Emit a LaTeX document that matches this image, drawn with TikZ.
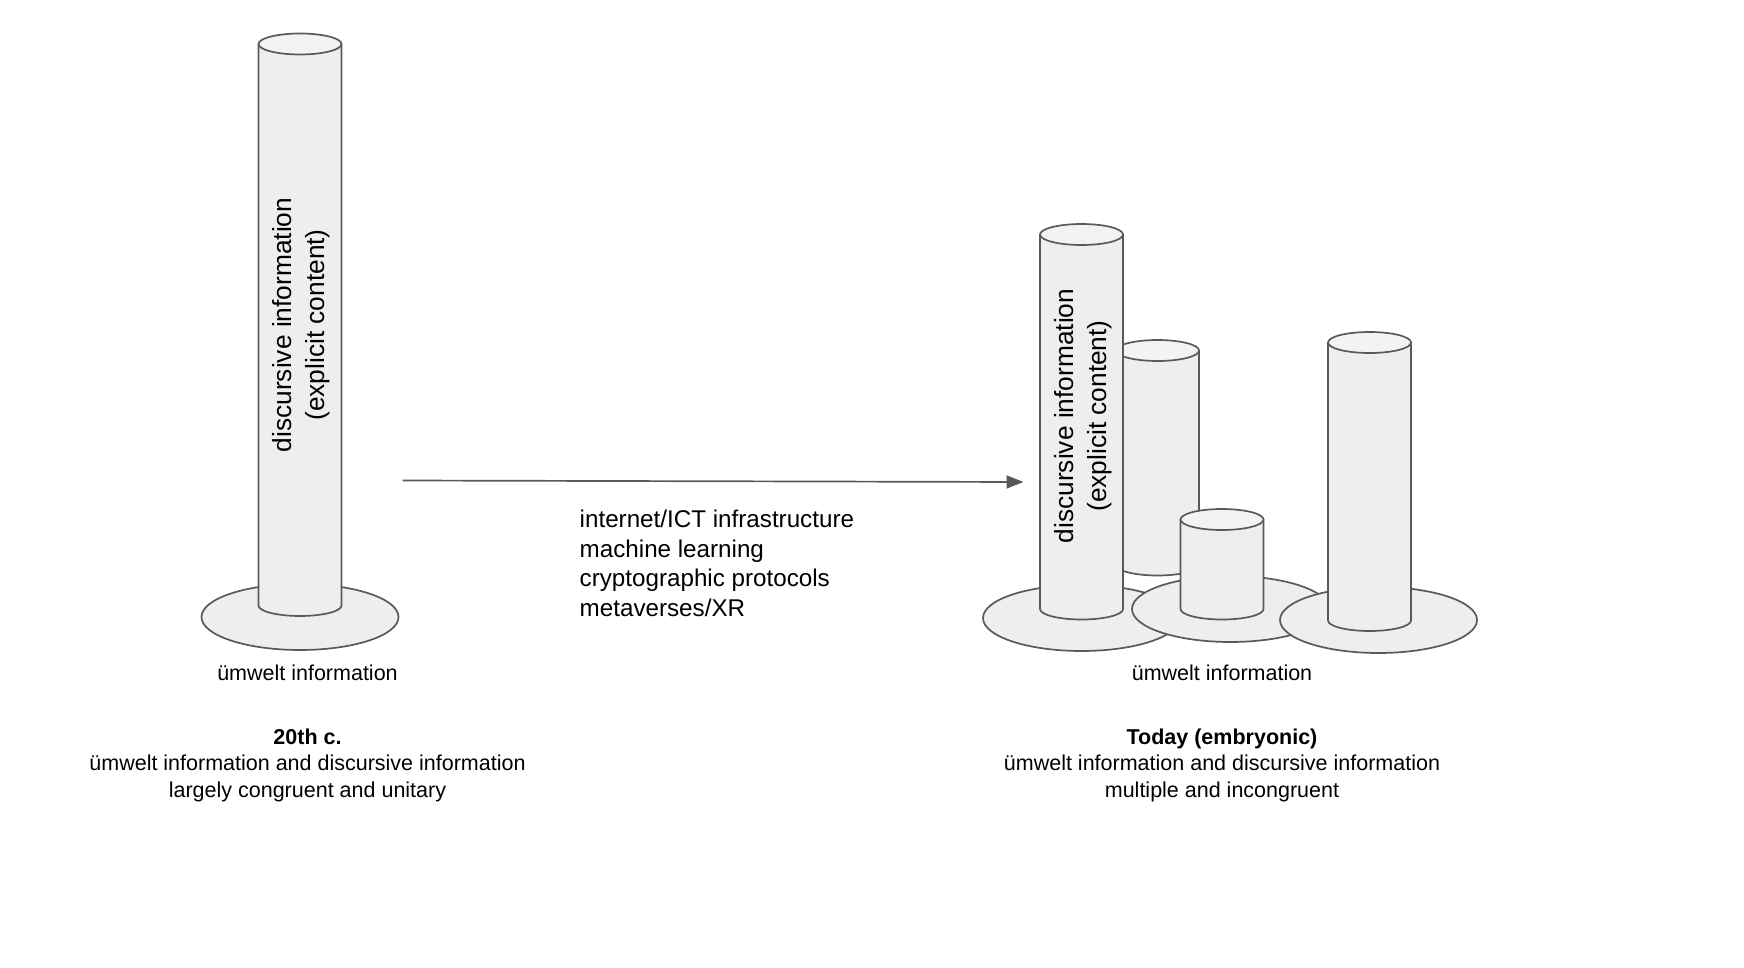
\documentclass[tikz,border=0pt]{standalone}
\usepackage{fontspec}
\setmainfont{Liberation Sans}
\usetikzlibrary{shapes.geometric, arrows.meta, positioning}
\definecolor{linegrey}{HTML}{595959}
\definecolor{bodygrey}{HTML}{EEEEEE}
\definecolor{topgrey}{HTML}{F3F3F3}
\tikzset{
    columnline/.style={draw=linegrey, line width=1.7pt, line join=round},
    disc/.style={ellipse, draw=linegrey, line width=1.7pt, fill=bodygrey, inner sep=0pt,
        minimum width=197pt, minimum height=66pt},
    sidelabel/.style={rotate=90, align=center, font=\fontsize{26.3}{33}\selectfont},
    smalllabel/.style={align=center, font=\fontsize{21.5}{26.5}\selectfont},
    listlabel/.style={align=left, anchor=north west, inner sep=0pt, font=\fontsize{24.2}{29.6}\selectfont}
}
% centre x, y of the top ellipse, y of the foot
\newcommand{\drawcolumn}[3]{
    \draw[columnline, fill=bodygrey] (#1-41.5,#2) -- (#1-41.5,#3-10.5) arc (180:360:41.5pt and 10.5pt) -- (#1+41.5,#2) -- cycle;
    \draw[columnline, fill=topgrey] (#1,#2) ellipse [x radius=41.5pt, y radius=10.5pt];
}
\begin{document}
\begin{tikzpicture}[x=1pt, y=-1pt]
        \useasboundingbox (0,0) rectangle (1744,968);
        % 20th c.
        \node[disc] (discleft) at (300,617) {};
        \drawcolumn{300}{44}{616}
        \node[sidelabel] (textleft) at (301.5,325) {discursive information\\(explicit content)};
        \node[smalllabel] (umweltleft) at (307.5,673) {ümwelt information};
        \node[smalllabel] (captionleft) at (307.5,765) {\textbf{20th c.}\\ümwelt information and discursive information\\largely congruent and unitary};
        % today
        \drawcolumn{1157.5}{350.5}{575.5}
        \node[disc] (discone) at (1081.5,618) {};
        \drawcolumn{1081.5}{234.5}{619.5}
        \node[sidelabel] (textright) at (1083.5,416) {discursive information\\(explicit content)};
        \node[disc] (disctwo) at (1230.5,609) {};
        \drawcolumn{1222}{519.5}{619.5}
        \node[disc] (discthree) at (1378.5,620) {};
        \drawcolumn{1369.5}{342.5}{631}
        \node[smalllabel] (umweltright) at (1222,673) {ümwelt information};
        \node[smalllabel] (captionright) at (1222,765) {\textbf{Today (embryonic)}\\ümwelt information and discursive information\\multiple and incongruent};
        % transition
        \coordinate (arrowstart) at (402.5,480.5);
        \coordinate (arrowend) at (1023.5,482);
        \draw[-{Triangle[length=17pt, width=13pt]}, draw=linegrey, fill=linegrey, line width=1.7pt] (arrowstart) -- (arrowend);
        \node[listlabel] (drivers) at (579.5,510) {internet/ICT infrastructure\\machine learning\\cryptographic protocols\\metaverses/XR};
    \end{tikzpicture}
\end{document}
